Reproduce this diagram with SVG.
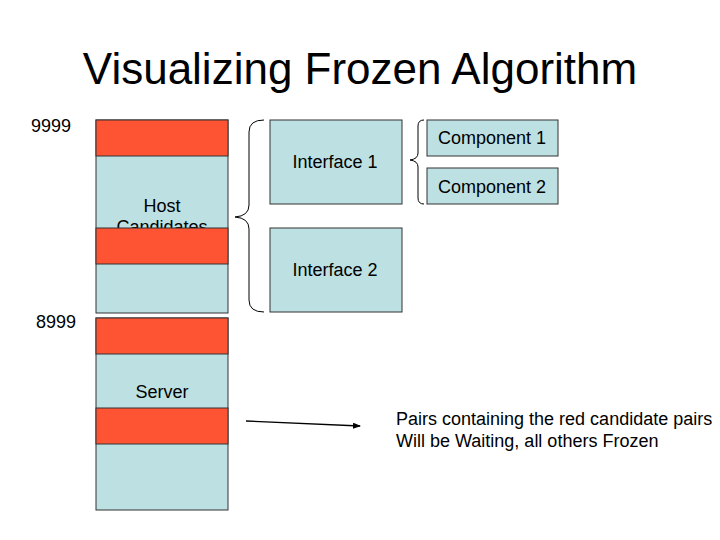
<svg xmlns="http://www.w3.org/2000/svg" width="720" height="540" viewBox="0 0 720 540">
<style>
text{font-family:"Liberation Sans",Arial,sans-serif;fill:#000}
.lbl{font-size:18px}
.mid{text-anchor:middle}
.blue{fill:#BDE0E3;stroke:#333;stroke-width:1}
.red{fill:#FF5433;stroke:#333;stroke-width:1}
.brace{fill:none;stroke:#000;stroke-width:1}
</style>
<defs>
<marker id="arr" markerWidth="8" markerHeight="6" refX="7" refY="3" orient="auto" markerUnits="userSpaceOnUse">
<path d="M0,0 L8,3 L0,6 z" fill="#000"/>
</marker>
</defs>
<rect width="720" height="540" fill="#fff"/>
<text x="360" y="84" font-size="44" class="mid">Visualizing Frozen Algorithm</text>
<text x="31" y="132" class="lbl">9999</text>
<text x="36" y="328" class="lbl">8999</text>
<g id="host">
<rect class="blue" x="96" y="120" width="132" height="193"/>
<text x="162" y="212" class="lbl mid">Host</text>
<text x="162" y="233" class="lbl mid">Candidates</text>
<rect class="red" x="96" y="120" width="132" height="36"/>
<rect class="red" x="96" y="228" width="132" height="36"/>
</g>
<g id="server">
<rect class="blue" x="96" y="318" width="132" height="192"/>
<rect class="red" x="96" y="318" width="132" height="36"/>
<rect class="red" x="96" y="408" width="132" height="36"/>
<text x="162" y="398" class="lbl mid">Server</text>
</g>
<g id="interface1">
<rect class="blue" x="270" y="120" width="132" height="84"/>
<text x="335" y="168" class="lbl mid">Interface 1</text>
</g>
<g id="interface2">
<rect class="blue" x="270" y="228" width="132" height="84"/>
<text x="335" y="276" class="lbl mid">Interface 2</text>
</g>
<g id="component1">
<rect class="blue" x="427" y="120" width="131" height="36"/>
<text x="492" y="144" class="lbl mid">Component 1</text>
</g>
<g id="component2">
<rect class="blue" x="427" y="168" width="131" height="36"/>
<text x="492" y="193" class="lbl mid">Component 2</text>
</g>
<g id="connectors">
<path class="brace" d="M264,120 Q249,120 249,132 L249,205 Q249,216 235,217 Q249,218 249,229 L249,300 Q249,312 264,312"/>
<path class="brace" d="M424,120 Q418,120 418,126 L418,153 Q418,159 410,160 Q418,161 418,167 L418,198 Q418,204 424,204"/>
<path d="M246,421 L360,426" stroke="#000" stroke-width="1.3" fill="none" marker-end="url(#arr)"/>
</g>
<text x="396" y="425" class="lbl">Pairs containing the red candidate pairs</text>
<text x="396" y="447" class="lbl">Will be Waiting, all others Frozen</text>
</svg>
